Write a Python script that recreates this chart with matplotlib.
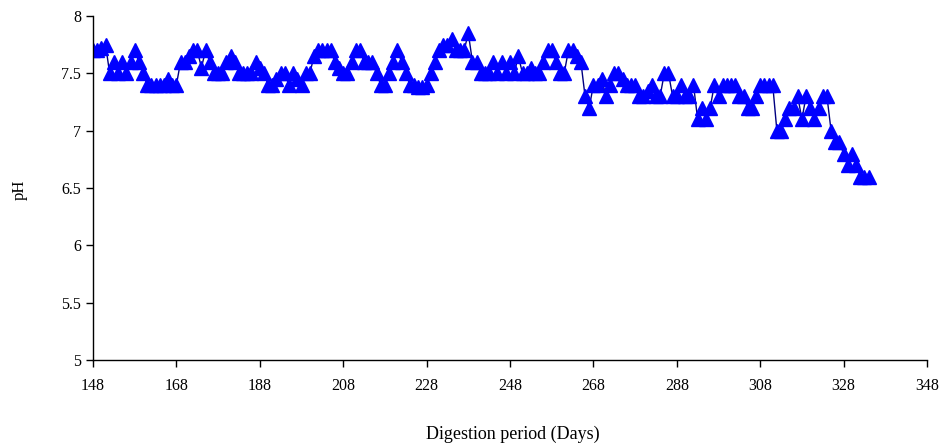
import matplotlib
matplotlib.use("Agg")
import matplotlib.pyplot as plt

plt.rcParams['font.family'] = ['Liberation Serif', 'DejaVu Serif']

days = list(range(148, 335))
ph = [
    7.7, 7.7, 7.72, 7.75, 7.5, 7.6, 7.5, 7.6, 7.5, 7.6,      # 148-157
    7.7, 7.6, 7.5, 7.4, 7.4, 7.4, 7.4, 7.4, 7.45, 7.4,       # 158-167
    7.4, 7.6, 7.6, 7.65, 7.7, 7.7, 7.55, 7.7, 7.6, 7.5,      # 168-177
    7.5, 7.5, 7.6, 7.65, 7.6, 7.5, 7.5, 7.5, 7.5, 7.6,       # 178-187
    7.55, 7.5, 7.4, 7.4, 7.45, 7.5, 7.5, 7.4, 7.5, 7.45,     # 188-197
    7.4, 7.5, 7.5, 7.65, 7.7, 7.7, 7.7, 7.7, 7.6, 7.55,      # 198-207
    7.5, 7.5, 7.6, 7.7, 7.7, 7.6, 7.6, 7.6, 7.5, 7.4,        # 208-217
    7.4, 7.5, 7.6, 7.7, 7.6, 7.5, 7.4, 7.4, 7.38, 7.38,      # 218-227
    7.4, 7.5, 7.6, 7.7, 7.75, 7.75, 7.8, 7.7, 7.7, 7.7,      # 228-237
    7.85, 7.6, 7.6, 7.5, 7.5, 7.5, 7.6, 7.5, 7.6, 7.5,       # 238-247
    7.6, 7.5, 7.65, 7.5, 7.5, 7.55, 7.5, 7.5, 7.6, 7.7,      # 248-257
    7.7, 7.6, 7.5, 7.5, 7.7, 7.7, 7.65, 7.6, 7.3, 7.2,       # 258-267
    7.4, 7.4, 7.45, 7.3, 7.4, 7.5, 7.5, 7.45, 7.4, 7.4,      # 268-277
    7.4, 7.3, 7.3, 7.35, 7.4, 7.3, 7.3, 7.5, 7.5, 7.3,       # 278-287
    7.3, 7.4, 7.3, 7.3, 7.4, 7.1, 7.2, 7.1, 7.2, 7.4,        # 288-297
    7.3, 7.4, 7.4, 7.4, 7.4, 7.3, 7.3, 7.2, 7.2, 7.3,        # 298-307
    7.4, 7.4, 7.4, 7.4, 7.0, 7.0, 7.1, 7.2, 7.2, 7.3,        # 308-317
    7.1, 7.3, 7.2, 7.1, 7.2, 7.3, 7.3, 7.0, 6.9, 6.9,        # 318-327
    6.8, 6.7, 6.8, 6.7, 6.6, 6.6, 6.6,                       # 328-334
]
x_ticks = list(range(148, 349, 20))
y_ticks = [5, 5.5, 6, 6.5, 7, 7.5, 8]
y_ticklabels = ['5', '5.5', '6', '6.5', '7', '7.5', '8']

fig = plt.figure(figsize=(9.43, 4.48), dpi=100)
ax = fig.add_axes([93 / 943, 1 - 360 / 448, 834 / 943, 344 / 448])

ax.plot(days, ph, color='#000080', linewidth=1.0, marker='^', markersize=10,
        markerfacecolor='#0000FF', markeredgecolor='#0000FF')

ax.set_xlim(148, 348)
ax.set_ylim(5, 8)
ax.set_xticks(x_ticks)
ax.set_yticks(y_ticks)
ax.set_yticklabels(y_ticklabels)
ax.tick_params(direction='out', length=5, width=1, labelsize=11.5, colors='black')
ax.tick_params(axis='x', pad=8)

for side in ['top', 'right']:
    ax.spines[side].set_visible(False)
for side in ['left', 'bottom']:
    ax.spines[side].set_linewidth(1)
    ax.spines[side].set_color('black')

fig.text(20 / 943, 1 - 190 / 448, 'pH', rotation=90, fontsize=12,
         ha='center', va='center')
fig.text(513 / 943, 1 - 434 / 448, 'Digestion period (Days)', fontsize=13,
         ha='center', va='center')

fig.savefig('out.png', dpi=100)
